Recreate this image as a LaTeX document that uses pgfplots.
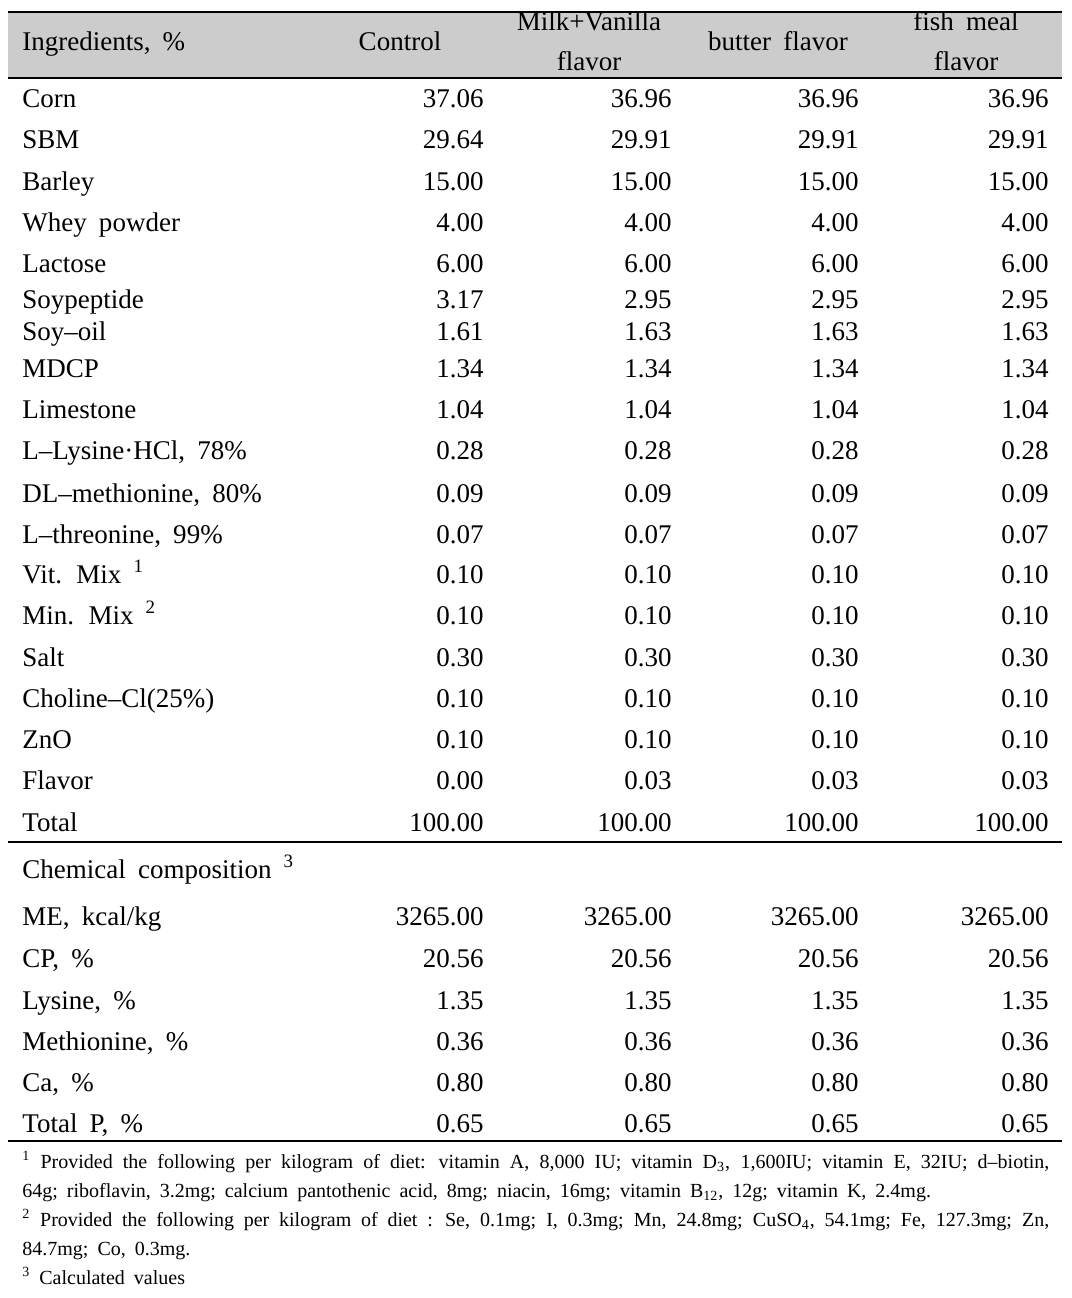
\documentclass[border=0pt]{standalone}
\usepackage{fontspec}
\setmainfont[WordSpace=1.8]{Liberation Serif}
\usepackage{pgfplots}
\usepackage{pgfplotstable}
\pgfplotsset{compat=1.18}
\tikzset{lab/.style={anchor=base west, inner sep=0pt}}
\definecolor{hdr}{RGB}{204,204,204}
\newcommand{\msz}{\fontsize{13.5}{15}\selectfont}
\newcommand{\fsz}{\fontsize{10}{12}\selectfont}
\pgfplotstableread{
y c1 c2 c3 c4
107 37.06 36.96 36.96 36.96
148 29.64 29.91 29.91 29.91
190 15.00 15.00 15.00 15.00
231 4.00 4.00 4.00 4.00
272 6.00 6.00 6.00 6.00
308 3.17 2.95 2.95 2.95
340 1.61 1.63 1.63 1.63
377 1.34 1.34 1.34 1.34
418 1.04 1.04 1.04 1.04
459 0.28 0.28 0.28 0.28
502 0.09 0.09 0.09 0.09
543 0.07 0.07 0.07 0.07
583 0.10 0.10 0.10 0.10
624 0.10 0.10 0.10 0.10
666 0.30 0.30 0.30 0.30
707 0.10 0.10 0.10 0.10
748 0.10 0.10 0.10 0.10
789 0.00 0.03 0.03 0.03
831 100.00 100.00 100.00 100.00
925 3265.00 3265.00 3265.00 3265.00
967 20.56 20.56 20.56 20.56
1009 1.35 1.35 1.35 1.35
1050 0.36 0.36 0.36 0.36
1091 0.80 0.80 0.80 0.80
1132 0.65 0.65 0.65 0.65
}\numtab
\begin{document}
\msz
\begin{tikzpicture}
\begin{axis}[
  scale only axis, x=0.5pt, y=0.5pt,
  xmin=0, xmax=1072, ymin=0, ymax=1298, y dir=reverse,
  hide axis, clip=false,
  every node near coord/.append style={anchor=base east, inner sep=0pt, font=\msz},
]
\fill[white] (axis cs:0,0) rectangle (axis cs:1072,1298);
\fill[hdr] (axis cs:8,12) rectangle (axis cs:1062,78);
\draw[line width=1pt] (axis cs:8,12) -- (axis cs:1062,12);
\draw[line width=0.7pt] (axis cs:8,78) -- (axis cs:1062,78);
\draw[line width=0.7pt] (axis cs:8,842) -- (axis cs:1062,842);
\draw[line width=0.7pt] (axis cs:8,1141) -- (axis cs:1062,1141);
% header
\node[lab] at (axis cs:22,50) {Ingredients, \%};
\node[anchor=base, inner sep=0pt] at (axis cs:400,50) {Control};
\node[anchor=base, inner sep=0pt] at (axis cs:589,30) {Milk+Vanilla};
\node[anchor=base, inner sep=0pt] at (axis cs:589,70) {flavor};
\node[anchor=base, inner sep=0pt] at (axis cs:778,50) {butter flavor};
\node[anchor=base, inner sep=0pt] at (axis cs:966,30) {fish meal};
\node[anchor=base, inner sep=0pt] at (axis cs:966,70) {flavor};
% row labels
\node[lab] at (axis cs:22,107) {Corn};
\node[lab] at (axis cs:22,148) {SBM};
\node[lab] at (axis cs:22,190) {Barley};
\node[lab] at (axis cs:22,231) {Whey powder};
\node[lab] at (axis cs:22,272) {Lactose};
\node[lab] at (axis cs:22,308) {Soypeptide};
\node[lab] at (axis cs:22,340) {Soy–oil};
\node[lab] at (axis cs:22,377) {MDCP};
\node[lab] at (axis cs:22,418) {Limestone};
\node[lab] at (axis cs:22,459) {L–Lysine·HCl, 78\%};
\node[lab] at (axis cs:22,502) {DL–methionine, 80\%};
\node[lab] at (axis cs:22,543) {L–threonine, 99\%};
\node[lab] at (axis cs:22,583) {Vit. Mix \textsuperscript{1}};
\node[lab] at (axis cs:22,624) {Min. Mix \textsuperscript{2}};
\node[lab] at (axis cs:22,666) {Salt};
\node[lab] at (axis cs:22,707) {Choline–Cl(25\%)};
\node[lab] at (axis cs:22,748) {ZnO};
\node[lab] at (axis cs:22,789) {Flavor};
\node[lab] at (axis cs:22,831) {Total};
\node[lab] at (axis cs:22,878) {Chemical composition \textsuperscript{3}};
\node[lab] at (axis cs:22,925) {ME, kcal/kg};
\node[lab] at (axis cs:22,967) {CP, \%};
\node[lab] at (axis cs:22,1009) {Lysine, \%};
\node[lab] at (axis cs:22,1050) {Methionine, \%};
\node[lab] at (axis cs:22,1091) {Ca, \%};
\node[lab] at (axis cs:22,1132) {Total P, \%};
% values
\addplot[draw=none, mark=none, nodes near coords, point meta=explicit symbolic]
  table[x expr=484, y=y, meta=c1] {\numtab};
\addplot[draw=none, mark=none, nodes near coords, point meta=explicit symbolic]
  table[x expr=672, y=y, meta=c2] {\numtab};
\addplot[draw=none, mark=none, nodes near coords, point meta=explicit symbolic]
  table[x expr=859, y=y, meta=c3] {\numtab};
\addplot[draw=none, mark=none, nodes near coords, point meta=explicit symbolic]
  table[x expr=1049, y=y, meta=c4] {\numtab};
% footnotes
\node[lab, font=\fsz] at (axis cs:22,1168)
  {\makebox[513.5pt][s]{\textsuperscript{1} Provided the following per kilogram of diet: vitamin A, 8,000 IU; vitamin D\textsubscript{3}, 1,600IU; vitamin E, 32IU; d–biotin,}};
\node[lab, font=\fsz] at (axis cs:22,1197)
  {64g; riboflavin, 3.2mg; calcium pantothenic acid, 8mg; niacin, 16mg; vitamin B\textsubscript{12}, 12g; vitamin K, 2.4mg.};
\node[lab, font=\fsz] at (axis cs:22,1226)
  {\makebox[513.5pt][s]{\textsuperscript{2} Provided the following per kilogram of diet : Se, 0.1mg; I, 0.3mg; Mn, 24.8mg; CuSO\textsubscript{4}, 54.1mg; Fe, 127.3mg; Zn,}};
\node[lab, font=\fsz] at (axis cs:22,1255)
  {84.7mg; Co, 0.3mg.};
\node[lab, font=\fsz] at (axis cs:22,1284)
  {\textsuperscript{3} Calculated values};
\end{axis}
\end{tikzpicture}
\end{document}
